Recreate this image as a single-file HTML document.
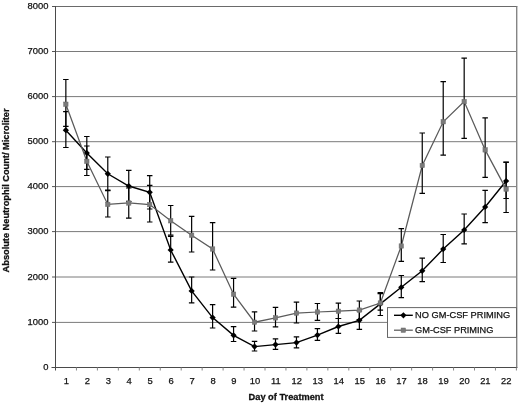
<!DOCTYPE html>
<html><head><meta charset="utf-8"><title>Absolute Neutrophil Count</title>
<style>
html,body{margin:0;padding:0;background:#fff;}
svg{display:block;}
text{font-family:"Liberation Sans",Arial,sans-serif;fill:#111;}
.t{font-size:9.4px;stroke:#111;stroke-width:0.25px;}
.b{font-size:9.4px;font-weight:bold;stroke:#111;stroke-width:0.3px;}
</style></head><body>
<svg width="520" height="403" viewBox="0 0 520 403">
<rect width="520" height="403" fill="#fff"/>

<line x1="52.0" y1="367.50" x2="55.5" y2="367.50" stroke="#555" stroke-width="1"/>
<text class="t" x="48.4" y="370.10" text-anchor="end">0</text>
<line x1="55.5" y1="322.40" x2="516.4" y2="322.40" stroke="#7a7a7a" stroke-width="1"/>
<line x1="52.0" y1="322.40" x2="55.5" y2="322.40" stroke="#555" stroke-width="1"/>
<text class="t" x="48.4" y="325.00" text-anchor="end">1000</text>
<line x1="55.5" y1="277.00" x2="516.4" y2="277.00" stroke="#7a7a7a" stroke-width="1"/>
<line x1="52.0" y1="277.00" x2="55.5" y2="277.00" stroke="#555" stroke-width="1"/>
<text class="t" x="48.4" y="279.60" text-anchor="end">2000</text>
<line x1="55.5" y1="231.60" x2="516.4" y2="231.60" stroke="#7a7a7a" stroke-width="1"/>
<line x1="52.0" y1="231.60" x2="55.5" y2="231.60" stroke="#555" stroke-width="1"/>
<text class="t" x="48.4" y="234.20" text-anchor="end">3000</text>
<line x1="55.5" y1="186.60" x2="516.4" y2="186.60" stroke="#7a7a7a" stroke-width="1"/>
<line x1="52.0" y1="186.60" x2="55.5" y2="186.60" stroke="#555" stroke-width="1"/>
<text class="t" x="48.4" y="189.20" text-anchor="end">4000</text>
<line x1="55.5" y1="141.70" x2="516.4" y2="141.70" stroke="#7a7a7a" stroke-width="1"/>
<line x1="52.0" y1="141.70" x2="55.5" y2="141.70" stroke="#555" stroke-width="1"/>
<text class="t" x="48.4" y="144.30" text-anchor="end">5000</text>
<line x1="55.5" y1="96.60" x2="516.4" y2="96.60" stroke="#7a7a7a" stroke-width="1"/>
<line x1="52.0" y1="96.60" x2="55.5" y2="96.60" stroke="#555" stroke-width="1"/>
<text class="t" x="48.4" y="99.20" text-anchor="end">6000</text>
<line x1="55.5" y1="51.50" x2="516.4" y2="51.50" stroke="#7a7a7a" stroke-width="1"/>
<line x1="52.0" y1="51.50" x2="55.5" y2="51.50" stroke="#555" stroke-width="1"/>
<text class="t" x="48.4" y="54.10" text-anchor="end">7000</text>
<line x1="52.0" y1="6.50" x2="55.5" y2="6.50" stroke="#555" stroke-width="1"/>
<text class="t" x="48.4" y="9.10" text-anchor="end">8000</text>
<line x1="55.5" y1="6.5" x2="517.4" y2="6.5" stroke="#6a6a6a" stroke-width="1"/>
<line x1="516.7" y1="6.5" x2="516.7" y2="367.5" stroke="#858585" stroke-width="1.4"/>
<line x1="55.5" y1="6.0" x2="55.5" y2="370.5" stroke="#4a4a4a" stroke-width="1"/>
<line x1="51.5" y1="367.5" x2="517.4" y2="367.5" stroke="#4a4a4a" stroke-width="1"/>
<line x1="76.45" y1="367.5" x2="76.45" y2="370.5" stroke="#888" stroke-width="1"/>
<text class="t" x="66.38" y="383.8" text-anchor="middle">1</text>
<line x1="97.40" y1="367.5" x2="97.40" y2="370.5" stroke="#888" stroke-width="1"/>
<text class="t" x="87.33" y="383.8" text-anchor="middle">2</text>
<line x1="118.35" y1="367.5" x2="118.35" y2="370.5" stroke="#888" stroke-width="1"/>
<text class="t" x="108.28" y="383.8" text-anchor="middle">3</text>
<line x1="139.30" y1="367.5" x2="139.30" y2="370.5" stroke="#888" stroke-width="1"/>
<text class="t" x="129.22" y="383.8" text-anchor="middle">4</text>
<line x1="160.25" y1="367.5" x2="160.25" y2="370.5" stroke="#888" stroke-width="1"/>
<text class="t" x="150.17" y="383.8" text-anchor="middle">5</text>
<line x1="181.20" y1="367.5" x2="181.20" y2="370.5" stroke="#888" stroke-width="1"/>
<text class="t" x="171.12" y="383.8" text-anchor="middle">6</text>
<line x1="202.15" y1="367.5" x2="202.15" y2="370.5" stroke="#888" stroke-width="1"/>
<text class="t" x="192.07" y="383.8" text-anchor="middle">7</text>
<line x1="223.10" y1="367.5" x2="223.10" y2="370.5" stroke="#888" stroke-width="1"/>
<text class="t" x="213.03" y="383.8" text-anchor="middle">8</text>
<line x1="244.05" y1="367.5" x2="244.05" y2="370.5" stroke="#888" stroke-width="1"/>
<text class="t" x="233.97" y="383.8" text-anchor="middle">9</text>
<line x1="265.00" y1="367.5" x2="265.00" y2="370.5" stroke="#888" stroke-width="1"/>
<text class="t" x="254.93" y="383.8" text-anchor="middle">10</text>
<line x1="285.95" y1="367.5" x2="285.95" y2="370.5" stroke="#888" stroke-width="1"/>
<text class="t" x="275.88" y="383.8" text-anchor="middle">11</text>
<line x1="306.90" y1="367.5" x2="306.90" y2="370.5" stroke="#888" stroke-width="1"/>
<text class="t" x="296.82" y="383.8" text-anchor="middle">12</text>
<line x1="327.85" y1="367.5" x2="327.85" y2="370.5" stroke="#888" stroke-width="1"/>
<text class="t" x="317.77" y="383.8" text-anchor="middle">13</text>
<line x1="348.80" y1="367.5" x2="348.80" y2="370.5" stroke="#888" stroke-width="1"/>
<text class="t" x="338.72" y="383.8" text-anchor="middle">14</text>
<line x1="369.75" y1="367.5" x2="369.75" y2="370.5" stroke="#888" stroke-width="1"/>
<text class="t" x="359.67" y="383.8" text-anchor="middle">15</text>
<line x1="390.70" y1="367.5" x2="390.70" y2="370.5" stroke="#888" stroke-width="1"/>
<text class="t" x="380.62" y="383.8" text-anchor="middle">16</text>
<line x1="411.65" y1="367.5" x2="411.65" y2="370.5" stroke="#888" stroke-width="1"/>
<text class="t" x="401.57" y="383.8" text-anchor="middle">17</text>
<line x1="432.60" y1="367.5" x2="432.60" y2="370.5" stroke="#888" stroke-width="1"/>
<text class="t" x="422.52" y="383.8" text-anchor="middle">18</text>
<line x1="453.55" y1="367.5" x2="453.55" y2="370.5" stroke="#888" stroke-width="1"/>
<text class="t" x="443.47" y="383.8" text-anchor="middle">19</text>
<line x1="474.50" y1="367.5" x2="474.50" y2="370.5" stroke="#888" stroke-width="1"/>
<text class="t" x="464.42" y="383.8" text-anchor="middle">20</text>
<line x1="495.45" y1="367.5" x2="495.45" y2="370.5" stroke="#888" stroke-width="1"/>
<text class="t" x="485.37" y="383.8" text-anchor="middle">21</text>
<line x1="516.40" y1="367.5" x2="516.40" y2="370.5" stroke="#888" stroke-width="1"/>
<text class="t" x="506.32" y="383.8" text-anchor="middle">22</text>
<polyline points="65.85,130.20 86.81,153.00 107.78,173.80 128.75,186.00 149.71,192.30 170.68,250.00 191.64,290.90 212.60,317.60 233.57,335.30 254.53,346.60 275.50,344.60 296.47,342.60 317.43,335.10 338.39,326.50 359.36,320.30 380.33,303.90 401.29,287.30 422.25,270.80 443.22,249.10 464.18,230.00 485.15,207.00 506.12,181.00" fill="none" stroke="#000" stroke-width="1.4"/>
<path d="M65.85 111.70V147.50M63.10 111.70H68.60M63.10 147.50H68.60" stroke="#000" stroke-width="1.2" fill="none"/>
<path d="M86.81 136.50V169.30M84.06 136.50H89.56M84.06 169.30H89.56" stroke="#000" stroke-width="1.2" fill="none"/>
<path d="M107.78 157.00V190.60M105.03 157.00H110.53M105.03 190.60H110.53" stroke="#000" stroke-width="1.2" fill="none"/>
<path d="M128.75 170.40V201.50M126.00 170.40H131.50M126.00 201.50H131.50" stroke="#000" stroke-width="1.2" fill="none"/>
<path d="M149.71 175.60V209.00M146.96 175.60H152.46M146.96 209.00H152.46" stroke="#000" stroke-width="1.2" fill="none"/>
<path d="M170.68 236.40V262.10M167.93 236.40H173.43M167.93 262.10H173.43" stroke="#000" stroke-width="1.2" fill="none"/>
<path d="M191.64 277.00V302.90M188.89 277.00H194.39M188.89 302.90H194.39" stroke="#000" stroke-width="1.2" fill="none"/>
<path d="M212.60 304.60V328.00M209.85 304.60H215.35M209.85 328.00H215.35" stroke="#000" stroke-width="1.2" fill="none"/>
<path d="M233.57 326.70V341.50M230.82 326.70H236.32M230.82 341.50H236.32" stroke="#000" stroke-width="1.2" fill="none"/>
<path d="M254.53 341.40V351.00M251.78 341.40H257.28M251.78 351.00H257.28" stroke="#000" stroke-width="1.2" fill="none"/>
<path d="M275.50 338.90V349.30M272.75 338.90H278.25M272.75 349.30H278.25" stroke="#000" stroke-width="1.2" fill="none"/>
<path d="M296.47 336.90V347.80M293.72 336.90H299.22M293.72 347.80H299.22" stroke="#000" stroke-width="1.2" fill="none"/>
<path d="M317.43 328.70V340.30M314.68 328.70H320.18M314.68 340.30H320.18" stroke="#000" stroke-width="1.2" fill="none"/>
<path d="M338.39 318.50V333.30M335.64 318.50H341.14M335.64 333.30H341.14" stroke="#000" stroke-width="1.2" fill="none"/>
<path d="M359.36 311.00V329.40M356.61 311.00H362.11M356.61 329.40H362.11" stroke="#000" stroke-width="1.2" fill="none"/>
<path d="M380.33 292.60V315.50M377.58 292.60H383.08M377.58 315.50H383.08" stroke="#000" stroke-width="1.2" fill="none"/>
<path d="M401.29 275.50V297.70M398.54 275.50H404.04M398.54 297.70H404.04" stroke="#000" stroke-width="1.2" fill="none"/>
<path d="M422.25 258.10V281.60M419.50 258.10H425.00M419.50 281.60H425.00" stroke="#000" stroke-width="1.2" fill="none"/>
<path d="M443.22 234.50V262.50M440.47 234.50H445.97M440.47 262.50H445.97" stroke="#000" stroke-width="1.2" fill="none"/>
<path d="M464.18 214.00V243.90M461.43 214.00H466.93M461.43 243.90H466.93" stroke="#000" stroke-width="1.2" fill="none"/>
<path d="M485.15 190.30V222.60M482.40 190.30H487.90M482.40 222.60H487.90" stroke="#000" stroke-width="1.2" fill="none"/>
<path d="M506.12 162.00V198.50M503.37 162.00H508.87M503.37 198.50H508.87" stroke="#000" stroke-width="1.2" fill="none"/>
<path d="M65.85 127.10L68.95 130.20L65.85 133.30L62.75 130.20Z" fill="#000"/>
<path d="M86.81 149.90L89.91 153.00L86.81 156.10L83.72 153.00Z" fill="#000"/>
<path d="M107.78 170.70L110.88 173.80L107.78 176.90L104.68 173.80Z" fill="#000"/>
<path d="M128.75 182.90L131.84 186.00L128.75 189.10L125.65 186.00Z" fill="#000"/>
<path d="M149.71 189.20L152.81 192.30L149.71 195.40L146.61 192.30Z" fill="#000"/>
<path d="M170.68 246.90L173.78 250.00L170.68 253.10L167.58 250.00Z" fill="#000"/>
<path d="M191.64 287.80L194.74 290.90L191.64 294.00L188.54 290.90Z" fill="#000"/>
<path d="M212.60 314.50L215.70 317.60L212.60 320.70L209.50 317.60Z" fill="#000"/>
<path d="M233.57 332.20L236.67 335.30L233.57 338.40L230.47 335.30Z" fill="#000"/>
<path d="M254.53 343.50L257.63 346.60L254.53 349.70L251.44 346.60Z" fill="#000"/>
<path d="M275.50 341.50L278.60 344.60L275.50 347.70L272.40 344.60Z" fill="#000"/>
<path d="M296.47 339.50L299.57 342.60L296.47 345.70L293.37 342.60Z" fill="#000"/>
<path d="M317.43 332.00L320.53 335.10L317.43 338.20L314.33 335.10Z" fill="#000"/>
<path d="M338.39 323.40L341.50 326.50L338.39 329.60L335.29 326.50Z" fill="#000"/>
<path d="M359.36 317.20L362.46 320.30L359.36 323.40L356.26 320.30Z" fill="#000"/>
<path d="M380.33 300.80L383.43 303.90L380.33 307.00L377.23 303.90Z" fill="#000"/>
<path d="M401.29 284.20L404.39 287.30L401.29 290.40L398.19 287.30Z" fill="#000"/>
<path d="M422.25 267.70L425.36 270.80L422.25 273.90L419.15 270.80Z" fill="#000"/>
<path d="M443.22 246.00L446.32 249.10L443.22 252.20L440.12 249.10Z" fill="#000"/>
<path d="M464.18 226.90L467.28 230.00L464.18 233.10L461.08 230.00Z" fill="#000"/>
<path d="M485.15 203.90L488.25 207.00L485.15 210.10L482.05 207.00Z" fill="#000"/>
<path d="M506.12 177.90L509.22 181.00L506.12 184.10L503.01 181.00Z" fill="#000"/>
<polyline points="65.85,104.20 86.81,161.30 107.78,204.40 128.75,203.00 149.71,204.60 170.68,220.80 191.64,235.20 212.60,249.00 233.57,294.20 254.53,322.20 275.50,317.90 296.47,313.10 317.43,312.00 338.39,311.20 359.36,310.10 380.33,303.00 401.29,246.00 422.25,165.50 443.22,121.80 464.18,101.60 485.15,149.90 506.12,189.10" fill="none" stroke="#5a5a5a" stroke-width="1.25"/>
<path d="M65.85 79.50V126.40M63.10 79.50H68.60M63.10 126.40H68.60" stroke="#000" stroke-width="1.2" fill="none"/>
<path d="M86.81 146.00V175.50M84.06 146.00H89.56M84.06 175.50H89.56" stroke="#000" stroke-width="1.2" fill="none"/>
<path d="M107.78 190.00V217.00M105.03 190.00H110.53M105.03 217.00H110.53" stroke="#000" stroke-width="1.2" fill="none"/>
<path d="M128.75 188.00V218.20M126.00 188.00H131.50M126.00 218.20H131.50" stroke="#000" stroke-width="1.2" fill="none"/>
<path d="M149.71 185.30V222.00M146.96 185.30H152.46M146.96 222.00H152.46" stroke="#000" stroke-width="1.2" fill="none"/>
<path d="M170.68 205.50V235.20M167.93 205.50H173.43M167.93 235.20H173.43" stroke="#000" stroke-width="1.2" fill="none"/>
<path d="M191.64 216.40V252.00M188.89 216.40H194.39M188.89 252.00H194.39" stroke="#000" stroke-width="1.2" fill="none"/>
<path d="M212.60 222.60V270.00M209.85 222.60H215.35M209.85 270.00H215.35" stroke="#000" stroke-width="1.2" fill="none"/>
<path d="M233.57 278.30V307.20M230.82 278.30H236.32M230.82 307.20H236.32" stroke="#000" stroke-width="1.2" fill="none"/>
<path d="M254.53 311.80V331.00M251.78 311.80H257.28M251.78 331.00H257.28" stroke="#000" stroke-width="1.2" fill="none"/>
<path d="M275.50 307.40V326.80M272.75 307.40H278.25M272.75 326.80H278.25" stroke="#000" stroke-width="1.2" fill="none"/>
<path d="M296.47 302.20V323.00M293.72 302.20H299.22M293.72 323.00H299.22" stroke="#000" stroke-width="1.2" fill="none"/>
<path d="M317.43 303.50V320.40M314.68 303.50H320.18M314.68 320.40H320.18" stroke="#000" stroke-width="1.2" fill="none"/>
<path d="M338.39 303.20V318.50M335.64 303.20H341.14M335.64 318.50H341.14" stroke="#000" stroke-width="1.2" fill="none"/>
<path d="M359.36 301.00V319.50M356.61 301.00H362.11M356.61 319.50H362.11" stroke="#000" stroke-width="1.2" fill="none"/>
<path d="M380.33 293.60V310.20M377.58 293.60H383.08M377.58 310.20H383.08" stroke="#000" stroke-width="1.2" fill="none"/>
<path d="M401.29 228.60V261.30M398.54 228.60H404.04M398.54 261.30H404.04" stroke="#000" stroke-width="1.2" fill="none"/>
<path d="M422.25 133.00V193.40M419.50 133.00H425.00M419.50 193.40H425.00" stroke="#000" stroke-width="1.2" fill="none"/>
<path d="M443.22 81.70V155.10M440.47 81.70H445.97M440.47 155.10H445.97" stroke="#000" stroke-width="1.2" fill="none"/>
<path d="M464.18 58.20V138.30M461.43 58.20H466.93M461.43 138.30H466.93" stroke="#000" stroke-width="1.2" fill="none"/>
<path d="M485.15 117.80V177.30M482.40 117.80H487.90M482.40 177.30H487.90" stroke="#000" stroke-width="1.2" fill="none"/>
<path d="M506.12 162.30V212.50M503.37 162.30H508.87M503.37 212.50H508.87" stroke="#000" stroke-width="1.2" fill="none"/>
<rect x="63.65" y="102.00" width="4.4" height="4.4" fill="#7a7a7a" stroke="#6a6a6a" stroke-width="0.5"/>
<rect x="84.61" y="159.10" width="4.4" height="4.4" fill="#7a7a7a" stroke="#6a6a6a" stroke-width="0.5"/>
<rect x="105.58" y="202.20" width="4.4" height="4.4" fill="#7a7a7a" stroke="#6a6a6a" stroke-width="0.5"/>
<rect x="126.55" y="200.80" width="4.4" height="4.4" fill="#7a7a7a" stroke="#6a6a6a" stroke-width="0.5"/>
<rect x="147.51" y="202.40" width="4.4" height="4.4" fill="#7a7a7a" stroke="#6a6a6a" stroke-width="0.5"/>
<rect x="168.48" y="218.60" width="4.4" height="4.4" fill="#7a7a7a" stroke="#6a6a6a" stroke-width="0.5"/>
<rect x="189.44" y="233.00" width="4.4" height="4.4" fill="#7a7a7a" stroke="#6a6a6a" stroke-width="0.5"/>
<rect x="210.41" y="246.80" width="4.4" height="4.4" fill="#7a7a7a" stroke="#6a6a6a" stroke-width="0.5"/>
<rect x="231.37" y="292.00" width="4.4" height="4.4" fill="#7a7a7a" stroke="#6a6a6a" stroke-width="0.5"/>
<rect x="252.34" y="320.00" width="4.4" height="4.4" fill="#7a7a7a" stroke="#6a6a6a" stroke-width="0.5"/>
<rect x="273.30" y="315.70" width="4.4" height="4.4" fill="#7a7a7a" stroke="#6a6a6a" stroke-width="0.5"/>
<rect x="294.27" y="310.90" width="4.4" height="4.4" fill="#7a7a7a" stroke="#6a6a6a" stroke-width="0.5"/>
<rect x="315.23" y="309.80" width="4.4" height="4.4" fill="#7a7a7a" stroke="#6a6a6a" stroke-width="0.5"/>
<rect x="336.19" y="309.00" width="4.4" height="4.4" fill="#7a7a7a" stroke="#6a6a6a" stroke-width="0.5"/>
<rect x="357.16" y="307.90" width="4.4" height="4.4" fill="#7a7a7a" stroke="#6a6a6a" stroke-width="0.5"/>
<rect x="378.13" y="300.80" width="4.4" height="4.4" fill="#7a7a7a" stroke="#6a6a6a" stroke-width="0.5"/>
<rect x="399.09" y="243.80" width="4.4" height="4.4" fill="#7a7a7a" stroke="#6a6a6a" stroke-width="0.5"/>
<rect x="420.06" y="163.30" width="4.4" height="4.4" fill="#7a7a7a" stroke="#6a6a6a" stroke-width="0.5"/>
<rect x="441.02" y="119.60" width="4.4" height="4.4" fill="#7a7a7a" stroke="#6a6a6a" stroke-width="0.5"/>
<rect x="461.98" y="99.40" width="4.4" height="4.4" fill="#7a7a7a" stroke="#6a6a6a" stroke-width="0.5"/>
<rect x="482.95" y="147.70" width="4.4" height="4.4" fill="#7a7a7a" stroke="#6a6a6a" stroke-width="0.5"/>
<rect x="503.92" y="186.90" width="4.4" height="4.4" fill="#7a7a7a" stroke="#6a6a6a" stroke-width="0.5"/>
<rect x="387.5" y="307.6" width="129" height="29.8" fill="#fff" stroke="#666" stroke-width="1"/>
<line x1="394" y1="315.3" x2="412.8" y2="315.3" stroke="#000" stroke-width="1.4"/>
<path d="M403.4 312.2L406.5 315.3L403.4 318.4L400.3 315.3Z" fill="#000"/>
<text class="t" x="415.1" y="318.3" textLength="95" lengthAdjust="spacingAndGlyphs">NO GM-CSF PRIMING</text>
<line x1="394" y1="330.2" x2="412.8" y2="330.2" stroke="#5a5a5a" stroke-width="1.25"/>
<rect x="401.1" y="328" width="4.4" height="4.4" fill="#7a7a7a" stroke="#6a6a6a" stroke-width="0.5"/>
<text class="t" x="415.1" y="333" textLength="78.3" lengthAdjust="spacingAndGlyphs">GM-CSF PRIMING</text>
<text class="b" x="248.6" y="399.8" textLength="75" lengthAdjust="spacingAndGlyphs">Day of Treatment</text>
<text class="b" transform="translate(9.2,272.4) rotate(-90)" textLength="164" lengthAdjust="spacingAndGlyphs">Absolute Neutrophil Count/ Microliter</text>
</svg></body></html>
